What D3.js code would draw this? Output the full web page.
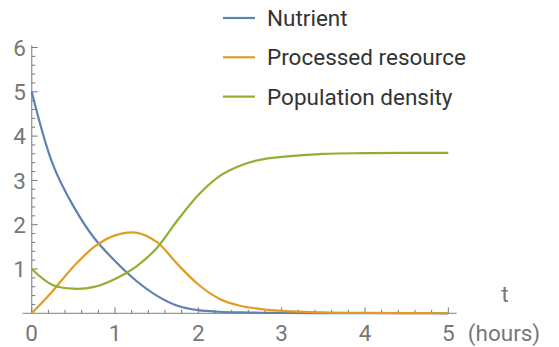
<!DOCTYPE html>
<html>
<head>
<meta charset="utf-8">
<script src="https://cdn.jsdelivr.net/npm/d3@7"></script>
<style>
  body { margin: 0; background: #fff; }
  text { font-family: Roboto, "Open Sans", sans-serif; }
</style>
</head>
<body>
<script>
// time points (hours) and the three series
var times = [0, 0.25, 0.5, 0.75, 1, 1.25, 1.5, 1.75, 2, 2.25, 2.5, 2.75, 3, 3.5, 4, 4.5, 5];
var nutrient = [5.0, 3.38, 2.42, 1.70, 1.18, 0.74, 0.40, 0.17, 0.07, 0.035, 0.02, 0.012, 0.008, 0.004, 0.002, 0.001, 0];
var processed = [0, 0.50, 1.05, 1.50, 1.76, 1.82, 1.61, 1.11, 0.65, 0.33, 0.17, 0.095, 0.055, 0.02, 0.008, 0.003, 0.001];
var population = [1.0, 0.64, 0.555, 0.595, 0.775, 1.05, 1.47, 2.10, 2.67, 3.09, 3.33, 3.47, 3.53, 3.60, 3.615, 3.62, 3.62];
var seriesNames = ["Nutrient", "Processed resource", "Population density"];
var xTicks = [0, 1, 2, 3, 4, 5];
var yTicks = [1, 2, 3, 4, 5, 6];

var width = 559, height = 347;
var colors = ["#5e81b5", "#e19c24", "#8fb032"];

var x = d3.scaleLinear().domain([0, 5]).range([31.7, 448.3]);
var y = d3.scaleLinear().domain([0, 6]).range([313.3, 47.5]);

var svg = d3.select("body").append("svg")
    .attr("width", width)
    .attr("height", height);

var axisColor = "#999";
var tickColor = "#777";
var fontSize = "22.5px";

// axis lines
svg.append("line")
    .attr("x1", x(-0.11)).attr("x2", x(5.1))
    .attr("y1", y(0)).attr("y2", y(0))
    .attr("stroke", axisColor).attr("stroke-width", 1.3);

svg.append("line")
    .attr("x1", x(0)).attr("x2", x(0))
    .attr("y1", y(0)).attr("y2", y(6.05))
    .attr("stroke", axisColor).attr("stroke-width", 1.3);

// ticks, major every 1 and minor every 0.2
var xMinor = d3.range(0, 5.001, 0.2);
svg.selectAll(".xtick")
    .data(xMinor)
    .enter().append("line")
    .attr("x1", function(d) { return x(d); })
    .attr("x2", function(d) { return x(d); })
    .attr("y1", y(0))
    .attr("y2", function(d) { return Math.abs(d - Math.round(d)) < 1e-6 ? y(0) - 6 : y(0) - 3.5; })
    .attr("stroke", tickColor).attr("stroke-width", 1);

var yMinor = d3.range(0.2, 6.001, 0.2);
svg.selectAll(".ytick")
    .data(yMinor)
    .enter().append("line")
    .attr("y1", function(d) { return y(d); })
    .attr("y2", function(d) { return y(d); })
    .attr("x1", x(0))
    .attr("x2", function(d) { return Math.abs(d - Math.round(d)) < 1e-6 ? x(0) + 6 : x(0) + 3.5; })
    .attr("stroke", tickColor).attr("stroke-width", 1);

svg.selectAll(".xlabel")
    .data(xTicks)
    .enter().append("text")
    .attr("x", function(d) { return x(d); })
    .attr("y", 341)
    .attr("text-anchor", "middle")
    .attr("font-size", fontSize)
    .attr("fill", "#777")
    .text(function(d) { return d; });

svg.selectAll(".ylabel")
    .data(yTicks)
    .enter().append("text")
    .attr("x", 26)
    .attr("y", function(d) { return y(d); })
    .attr("dy", "0.36em")
    .attr("text-anchor", "end")
    .attr("font-size", fontSize)
    .attr("fill", "#777")
    .text(function(d) { return d; });

svg.append("text")
    .attr("x", 505).attr("y", 302)
    .attr("text-anchor", "middle")
    .attr("font-size", fontSize)
    .attr("fill", "#777")
    .text("t");

svg.append("text")
    .attr("x", 504).attr("y", 341)
    .attr("text-anchor", "middle")
    .attr("font-size", fontSize)
    .attr("fill", "#777")
    .text("(hours)");

// curves
var allSeries = [nutrient, processed, population];
var line = d3.line()
    .x(function(d, i) { return x(times[i]); })
    .y(function(d) { return y(d); })
    .curve(d3.curveCatmullRom.alpha(0.5));

svg.selectAll(".curve")
    .data(allSeries)
    .enter().append("path")
    .attr("d", line)
    .attr("fill", "none")
    .attr("stroke", function(d, i) { return colors[i]; })
    .attr("stroke-width", 2.2);

// legend
var legend = svg.selectAll(".legend")
    .data(seriesNames)
    .enter().append("g")
    .attr("transform", function(d, i) { return "translate(223," + (18 + i * 39.3) + ")"; });

legend.append("line")
    .attr("x1", 0).attr("x2", 32)
    .attr("stroke", function(d, i) { return colors[i]; })
    .attr("stroke-width", 2.2);

legend.append("text")
    .attr("x", 44)
    .attr("dy", "0.36em")
    .attr("font-size", fontSize)
    .attr("fill", "#333")
    .text(function(d) { return d; });
</script>
</body>
</html>
